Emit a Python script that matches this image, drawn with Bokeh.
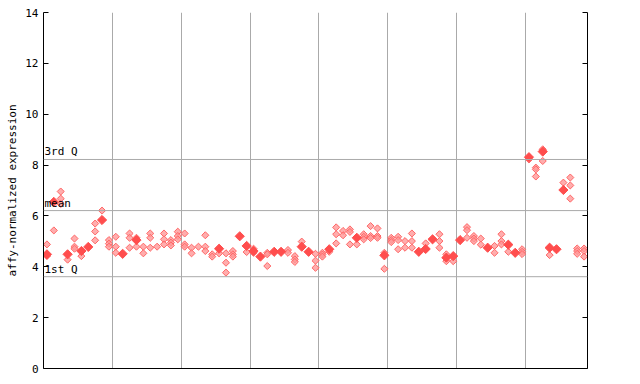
import numpy as np
from bokeh.plotting import figure
from bokeh.models import Range1d, Span, LinearAxis, FixedTicker, Label
from bokeh.embed import file_html
from bokeh.resources import INLINE

# replicate values per sample (hollow diamonds) and highlighted values (solid diamonds)
hollow_vals = [
    [4.88, 4.42], [5.43], [6.96, 6.68, 6.47], [4.28], [5.11, 4.79, 4.71],
    [4.42], [], [5.70, 5.39, 5.04], [6.21], [5.05, 4.91, 4.79],
    [5.18, 4.79, 4.55], [], [5.31, 5.14, 4.75], [5.14, 4.79], [4.79, 4.53],
    [5.31, 5.14, 4.75], [4.79], [5.31, 5.08, 4.88], [5.05, 4.95, 4.84], [5.38, 5.21, 5.08],
    [5.31, 4.88, 4.79], [4.75, 4.53], [4.79], [5.24, 4.79, 4.62], [4.49, 4.40],
    [4.53], [4.53, 4.16, 3.77], [4.62, 4.49, 4.40], [], [4.58],
    [4.71, 4.55], [], [4.55, 4.49, 4.03], [], [],
    [4.66, 4.55], [4.42, 4.29, 4.19], [4.99], [], [4.51, 4.24, 3.96],
    [4.55, 4.48, 4.40], [4.59], [5.55, 5.28, 4.92], [5.41, 5.24], [5.47, 5.37, 4.88],
    [4.88], [5.28, 5.18, 5.08], [5.60, 5.21, 5.13], [5.51, 5.21, 5.14], [4.55, 3.92],
    [5.14, 5.05, 4.97], [5.18, 5.05, 4.69], [5.01, 4.75], [5.31, 5.01, 4.75], [],
    [4.92], [], [5.28, 5.01, 4.75], [4.49, 4.22], [4.22],
    [], [5.56, 5.44, 5.14], [5.21, 5.11, 5.01], [5.11, 4.87], [],
    [4.82, 4.55], [5.28, 5.01, 4.88], [4.59], [], [4.69, 4.59, 4.50],
    [8.22], [7.90, 7.83, 7.55], [8.62, 8.16], [4.46], [],
    [7.31], [7.51, 7.20, 6.68], [4.72, 4.62, 4.51], [4.72, 4.62, 4.40],
]
solid_vals = [
    4.49, 6.55, None, 4.49, None, 4.62, 4.78, None, 5.84, None,
    None, 4.51, None, 5.05, None, None, None, None, None, None,
    None, None, None, None, None, 4.71, None, None, 5.20, 4.82,
    4.62, 4.40, None, 4.59, 4.59, None, None, 4.79, 4.59, None,
    None, 4.69, None, None, None, 5.14, None, None, None, 4.45,
    None, None, None, None, 4.59, 4.70, 5.08, None, 4.36, 4.42,
    5.05, None, None, None, 4.75, None, None, 4.87, 4.55, None,
    8.31, None, 8.53, 4.75, 4.69, 7.02, None, None, None,
]
q3_value = 8.22
mean_value = 6.21
q1_value = 3.61
y_ticks = [0, 2, 4, 6, 8, 10, 12, 14]
group_bounds = [10, 20, 30, 40, 50, 60, 70]

hx, hy = [], []
for i, vals in enumerate(hollow_vals):
    for v in vals:
        hx.append(i + 0.5)
        hy.append(v)
sx = [i + 0.5 for i, v in enumerate(solid_vals) if v is not None]
sy = [v for v in solid_vals if v is not None]

n = len(hollow_vals)
p = figure(frame_width=544, frame_height=356, output_backend="svg", toolbar_location=None,
           x_range=Range1d(0, n), y_range=Range1d(0, 14),
           min_border_left=43, min_border_top=12, min_border_bottom=10, min_border_right=20,
           background_fill_color="white", border_fill_color="white")
p.outline_line_color = None

FONT = "DejaVu Sans Mono"
# y axis
p.yaxis.ticker = FixedTicker(ticks=y_ticks)
p.yaxis.axis_label = "affy-normalized expression"
p.yaxis.axis_label_text_font = FONT
p.yaxis.axis_label_text_font_size = "11px"
p.yaxis.axis_label_text_font_style = "normal"
p.yaxis.axis_label_text_color = "black"
p.yaxis.axis_label_standoff = 3
p.yaxis.major_label_text_font = FONT
p.yaxis.major_label_text_font_size = "11px"
p.yaxis.major_label_text_color = "black"
p.yaxis.major_tick_in = 5
p.yaxis.major_tick_out = 0
p.yaxis.minor_tick_line_color = None
p.yaxis.axis_line_color = "black"
p.yaxis.major_tick_line_color = "black"
p.yaxis.major_label_standoff = 5

# x axis: just the bottom line
p.xaxis.ticker = FixedTicker(ticks=[])
p.xaxis.major_tick_line_color = None
p.xaxis.minor_tick_line_color = None
p.xaxis.axis_line_color = "black"

# right axis: ticks only
ra = LinearAxis(ticker=FixedTicker(ticks=y_ticks),
                major_label_overrides={t: "" for t in y_ticks},
                major_tick_in=5, major_tick_out=0, minor_tick_line_color=None,
                axis_line_color="black")
p.add_layout(ra, "right")

p.ygrid.grid_line_color = None
p.xgrid.ticker = FixedTicker(ticks=group_bounds)
p.xgrid.grid_line_color = "#aaaaaa"
p.xgrid.grid_line_width = 1

for val, lab in [(q3_value, "3rd Q"), (mean_value, "mean"), (q1_value, "1st Q")]:
    p.add_layout(Span(location=val, dimension="width", line_color="#aaaaaa", line_width=1))
    p.add_layout(Label(x=0, y=val, text=lab, text_font=FONT, text_font_size="11px",
                       text_color="black", x_offset=1, y_offset=1, text_baseline="bottom"))

p.scatter(hx, hy, marker="square", angle=np.pi / 4, size=5, fill_color="#ff9999",
          fill_alpha=0.8, line_color="#ff6666", line_width=1)
p.scatter(sx, sy, marker="square", angle=np.pi / 4, size=6.5, fill_color="#ff4d4d",
          line_color="#ff4d4d", line_width=1)

open("out.html", "w").write(file_html(p, INLINE))
